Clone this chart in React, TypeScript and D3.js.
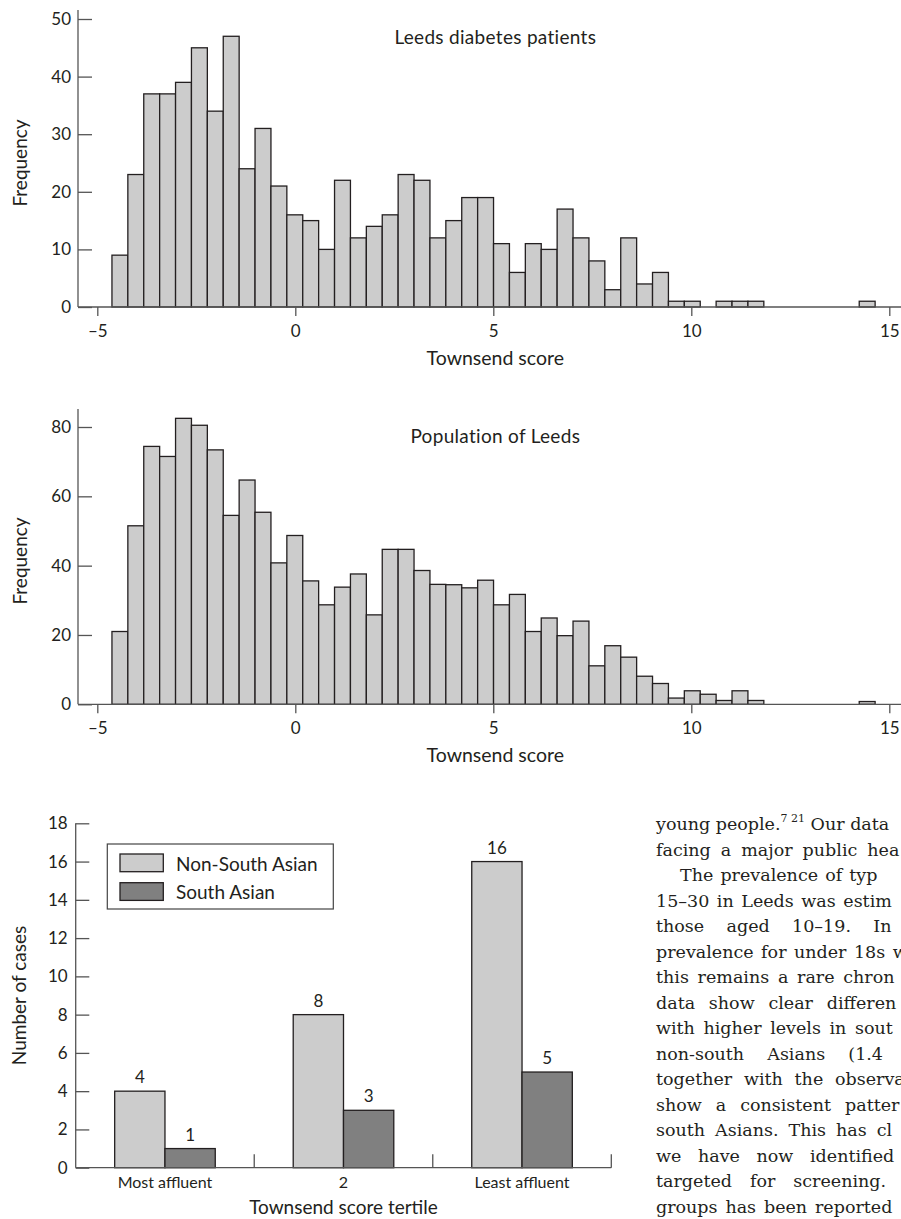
import { useEffect, useRef } from 'react';
import * as d3 from 'd3';

// histogram bins (Townsend score)
const BIN_START = -4.63;
const BIN_WIDTH = 0.4015;
const xTickValues = [-5, 0, 5, 10, 15];

const diabetesCounts = [
  9, 23, 37, 37, 39, 45, 34, 47, 24, 31, 21, 16, 15, 10, 22, 12,
  14, 16, 23, 22, 12, 15, 19, 19, 11, 6, 11, 10, 17, 12, 8, 3,
  12, 4, 6, 1, 1, 0, 1, 1, 1, 0, 0, 0, 0, 0, 0, 1,
];
const diabetesYTicks = [0, 10, 20, 30, 40, 50];

const populationCounts = [
  21, 51.5, 74.4, 71.5, 82.5, 80.5, 73.4, 54.5, 64.7, 55.4, 40.8, 48.7, 35.6, 28.7, 33.8, 37.6,
  25.8, 44.7, 44.7, 38.6, 34.6, 34.5, 33.6, 35.8, 28.7, 31.7, 21, 24.9, 19.8, 24, 11.1, 16.9,
  13.6, 8.1, 6, 1.8, 3.9, 2.9, 1.1, 3.9, 1.1, 0, 0, 0, 0, 0, 0, 0.8,
];
const populationYTicks = [0, 20, 40, 60, 80];

// cases by tertile
const tertiles = ['Most affluent', '2', 'Least affluent'];
const groups = ['Non-South Asian', 'South Asian'];
const nonSouthAsian = [4, 8, 16];
const southAsian = [1, 3, 5];
const caseTicks = [0, 2, 4, 6, 8, 10, 12, 14, 16, 18];
const groupColors = ['#cccccc', '#808080'];

// body text column on the right (cut off by the page edge)
// lastX: where the last visible word starts, used to justify the line
const bodyLines = [
  { t: 'young people.', sup: '7 21', rest: ' Our data', indent: 0, lastX: 0 },
  { t: 'facing a major public hea', indent: 0, lastX: 867.3 },
  { t: 'The prevalence of typ', indent: 24, lastX: 849.3 },
  { t: '15–30 in Leeds was estim', indent: 0, lastX: 843.3 },
  { t: 'those aged 10–19. In', indent: 0, lastX: 873.3 },
  { t: 'prevalence for under 18s w', indent: 0, lastX: 892.7 },
  { t: 'this remains a rare chron', indent: 0, lastX: 843.3 },
  { t: 'data show clear differen', indent: 0, lastX: 826.7 },
  { t: 'with higher levels in sout', indent: 0, lastX: 855 },
  { t: 'non-south Asians (1.4', indent: 0, lastX: 848.3 },
  { t: 'together with the observa', indent: 0, lastX: 835 },
  { t: 'show a consistent patter', indent: 0, lastX: 845 },
  { t: 'south Asians. This has cl', indent: 0, lastX: 876.7 },
  { t: 'we have now identified', indent: 0, lastX: 810 },
  { t: 'targeted for screening.', indent: 0, lastX: 793.3 },
  { t: 'groups has been reported', indent: 0, lastX: 815 },
];

const FONT = 'Lato, "Noto Sans", sans-serif';
const INK = '#231f20';

const fmtTick = (d) => (d < 0 ? `–${-d}` : `${d}`);

function drawHistogram(svg, counts, yTicks, cfg) {
  const x = d3.scaleLinear().domain([-5, 15]).range([97.3, 889.3]);
  const y = d3.scaleLinear().domain([0, cfg.yMax]).range([cfg.y0, cfg.yMaxPx]);
  const axisX = 78;
  const g = svg.append('g');

  const bins = counts.map((c, i) => ({ c, i })).filter((d) => d.c > 0);
  g.selectAll('rect.bin')
    .data(bins)
    .join('rect')
    .attr('class', 'bin')
    .attr('x', (d) => x(BIN_START + d.i * BIN_WIDTH))
    .attr('y', (d) => y(d.c))
    .attr('width', x(BIN_WIDTH) - x(0))
    .attr('height', (d) => y(0) - y(d.c))
    .attr('fill', '#cccccc')
    .attr('stroke', INK)
    .attr('stroke-width', 1.3);

  // axes lines
  g.append('line')
    .attr('x1', axisX).attr('x2', axisX)
    .attr('y1', cfg.axisTop).attr('y2', y(0))
    .attr('stroke', '#555').attr('stroke-width', 1.3);
  g.append('line')
    .attr('x1', axisX).attr('x2', 910)
    .attr('y1', y(0)).attr('y2', y(0))
    .attr('stroke', '#555').attr('stroke-width', 1.3);

  const yAxis = g.append('g')
    .attr('transform', `translate(${axisX},0)`)
    .call(d3.axisLeft(y).tickValues(yTicks).tickSize(-14).tickPadding(7).tickFormat(fmtTick));
  yAxis.select('.domain').remove();

  const xAxis = g.append('g')
    .attr('transform', `translate(0,${y(0)})`)
    .call(d3.axisBottom(x).tickValues(xTickValues).tickSize(9).tickFormat(fmtTick));
  xAxis.select('.domain').remove();
  xAxis.selectAll('text').attr('y', 30).attr('dy', 0);

  [yAxis, xAxis].forEach((a) => {
    a.selectAll('line').attr('stroke', '#555').attr('stroke-width', 1.3);
    a.selectAll('text').attr('fill', INK).style('font-size', '17px').style('font-family', FONT);
  });

  g.append('text')
    .attr('x', x(5) + 2)
    .attr('y', cfg.axisTop + 34)
    .attr('text-anchor', 'middle')
    .attr('fill', INK)
    .style('font-size', '19px')
    .style('letter-spacing', '0.3px')
    .text(cfg.title);

  g.append('text')
    .attr('x', x(5) + 2)
    .attr('y', y(0) + 58)
    .attr('text-anchor', 'middle')
    .attr('fill', INK)
    .style('font-size', '19.5px')
    .text('Townsend score');

  g.append('text')
    .attr('transform', `translate(27,${cfg.labelY}) rotate(-90)`)
    .attr('text-anchor', 'middle')
    .attr('fill', INK)
    .style('font-size', '19px')
    .text('Frequency');
}

function drawBars(svg) {
  const x0 = d3.scaleBand().domain(tertiles).range([75.7, 611.3]);
  const y = d3.scaleLinear().domain([0, 18]).range([1167.7, 823.3]);
  const groupW = x0.bandwidth() * 0.5633;
  const x1 = d3.scaleBand().domain(groups)
    .range([(x0.bandwidth() - groupW) / 2, (x0.bandwidth() + groupW) / 2]);
  const g = svg.append('g');

  const rows = tertiles.flatMap((t, i) => [
    { t, s: groups[0], v: nonSouthAsian[i], k: 0 },
    { t, s: groups[1], v: southAsian[i], k: 1 },
  ]);

  g.selectAll('rect.bar')
    .data(rows)
    .join('rect')
    .attr('class', 'bar')
    .attr('x', (d) => x0(d.t) + x1(d.s))
    .attr('y', (d) => y(d.v))
    .attr('width', x1.bandwidth())
    .attr('height', (d) => y(0) - y(d.v))
    .attr('fill', (d) => groupColors[d.k])
    .attr('stroke', INK)
    .attr('stroke-width', 1.3);

  g.selectAll('text.val')
    .data(rows)
    .join('text')
    .attr('class', 'val')
    .attr('x', (d) => x0(d.t) + x1(d.s) + x1.bandwidth() / 2)
    .attr('y', (d) => y(d.v) - 8)
    .attr('text-anchor', 'middle')
    .attr('fill', INK)
    .style('font-size', '17px')
    .text((d) => d.v);

  // axes
  g.append('line')
    .attr('x1', 75.7).attr('x2', 75.7)
    .attr('y1', y(18)).attr('y2', y(0))
    .attr('stroke', '#555').attr('stroke-width', 1.3);
  g.append('line')
    .attr('x1', 75.7).attr('x2', 611.3)
    .attr('y1', y(0)).attr('y2', y(0))
    .attr('stroke', '#555').attr('stroke-width', 1.3);

  const yAxis = g.append('g')
    .attr('transform', 'translate(75.7,0)')
    .call(d3.axisLeft(y).tickValues(caseTicks).tickSize(-13.6).tickPadding(8));
  yAxis.select('.domain').remove();
  yAxis.selectAll('line').attr('stroke', '#555').attr('stroke-width', 1.3);
  yAxis.selectAll('text').attr('fill', INK).style('font-size', '17px').style('font-family', FONT);

  // category separators
  g.selectAll('line.sep')
    .data(tertiles)
    .join('line')
    .attr('class', 'sep')
    .attr('x1', (d) => x0(d) + x0.bandwidth())
    .attr('x2', (d) => x0(d) + x0.bandwidth())
    .attr('y1', y(0))
    .attr('y2', y(0) - 13.5)
    .attr('stroke', '#555')
    .attr('stroke-width', 1.3);

  g.selectAll('text.cat')
    .data(tertiles)
    .join('text')
    .attr('class', 'cat')
    .attr('x', (d) => x0(d) + x0.bandwidth() / 2)
    .attr('y', y(0) + 20.5)
    .attr('text-anchor', 'middle')
    .attr('fill', INK)
    .style('font-size', '16px')
    .text((d) => d);

  g.append('text')
    .attr('x', (75.7 + 611.3) / 2)
    .attr('y', y(0) + 46)
    .attr('text-anchor', 'middle')
    .attr('fill', INK)
    .style('font-size', '19px')
    .text('Townsend score tertile');

  g.append('text')
    .attr('transform', `translate(26,${(y(0) + y(18)) / 2}) rotate(-90)`)
    .attr('text-anchor', 'middle')
    .attr('fill', INK)
    .style('font-size', '19px')
    .text('Number of cases');

  // legend
  const lg = g.append('g').attr('transform', 'translate(107.3,844)');
  lg.append('rect')
    .attr('width', 226).attr('height', 65)
    .attr('fill', '#fff').attr('stroke', '#444').attr('stroke-width', 1.2);
  groups.forEach((s, i) => {
    lg.append('rect')
      .attr('x', 12.7).attr('y', 10 + i * 28.7)
      .attr('width', 43.3).attr('height', 17.7)
      .attr('fill', groupColors[i]).attr('stroke', INK).attr('stroke-width', 1.3);
    lg.append('text')
      .attr('x', 68.7).attr('y', 26.7 + i * 28.6)
      .attr('fill', INK)
      .style('font-size', '19px')
      .text(s);
  });
}

function drawBody(svg) {
  const g = svg.append('g')
    .style('font-family', '"DejaVu Serif", serif')
    .style('font-size', '17.5px')
    .attr('fill', INK);
  bodyLines.forEach((l, i) => {
    const x0 = 656 + l.indent;
    const t = g.append('text')
      .attr('x', x0)
      .attr('y', 830 + i * 25.53);
    if (l.sup) {
      t.append('tspan').text(l.t);
      t.append('tspan').attr('dy', -8).style('font-size', '11px').text(l.sup);
      t.append('tspan').attr('dy', 8).text(l.rest);
      return;
    }
    // justify: spread the spaces so the last word starts where it does in print
    const words = l.t.split(' ');
    t.append('tspan').text(l.t);
    const w0 = t.node().getComputedTextLength();
    const probe = g.append('text').text(words[words.length - 1]);
    const wl = probe.node().getComputedTextLength();
    probe.remove();
    const ws = Math.max(-1.5, (l.lastX - x0 - (w0 - wl)) / (words.length - 1));
    t.attr('word-spacing', ws.toFixed(2));
  });
}

export default function App() {
  const ref = useRef(null);

  useEffect(() => {
    const svg = d3.select(ref.current);
    svg.selectAll('*').remove();
    svg.append('rect').attr('width', 901).attr('height', 1219).attr('fill', '#fff');

    drawHistogram(svg, diabetesCounts, diabetesYTicks, {
      yMax: 50, y0: 307, yMaxPx: 19, axisTop: 10, labelY: 163,
      title: 'Leeds diabetes patients',
    });
    drawHistogram(svg, populationCounts, populationYTicks, {
      yMax: 80, y0: 704.3, yMaxPx: 427, axisTop: 409, labelY: 561,
      title: 'Population of Leeds',
    });
    drawBars(svg);
    drawBody(svg);
  }, []);

  return (
    <svg
      ref={ref}
      width={901}
      height={1219}
      style={{ position: 'absolute', left: 0, top: 0, fontFamily: FONT }}
    />
  );
}
